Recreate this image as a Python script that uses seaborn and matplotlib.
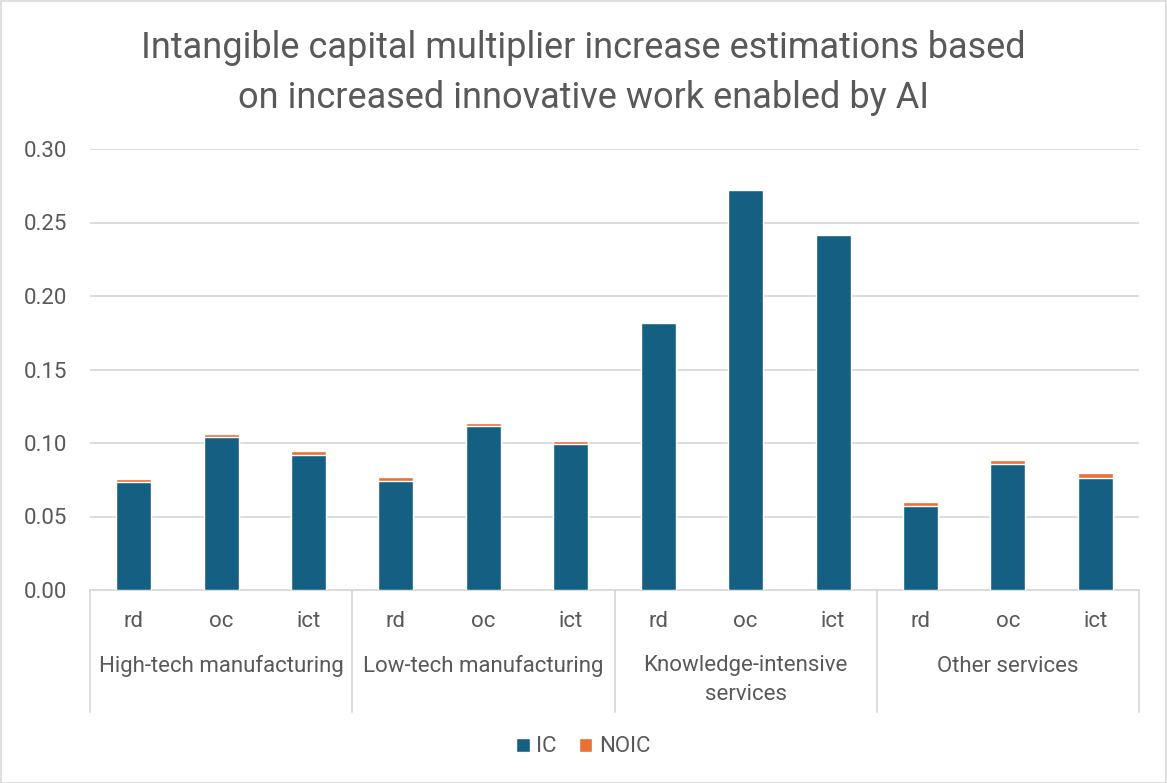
import numpy as np
import pandas as pd
import matplotlib
matplotlib.use("Agg")
import matplotlib.pyplot as plt
import matplotlib.transforms as mtransforms
from matplotlib.patches import Patch, Rectangle
import seaborn as sns

# Data
sectors = ["High-tech manufacturing", "Low-tech manufacturing",
           "Knowledge-intensive\nservices", "Other services"]
capital_types = ["rd", "oc", "ict"]
ic_values = [0.0733, 0.1039, 0.0921,
             0.0744, 0.1118, 0.0995,
             0.1814, 0.2719, 0.2417,
             0.0574, 0.0859, 0.0764]
noic_values = [0.0022, 0.0022, 0.0022,
               0.0027, 0.0018, 0.0016,
               0.0003, 0.0003, 0.0003,
               0.0025, 0.0025, 0.0032]
y_ticks = [0.00, 0.05, 0.10, 0.15, 0.20, 0.25, 0.30]
title = "Intangible capital multiplier increase estimations based\non increased innovative work enabled by AI"

IC_COLOR = "#156082"
NOIC_COLOR = "#E97132"
TEXT_COLOR = "#595959"
GRID_COLOR = "#D9D9D9"
FS = 16

sns.set_theme(style="white")
plt.rcParams["font.family"] = ["Roboto", "DejaVu Sans"]

rows = []
for i, sector in enumerate(sectors):
    for j, ct in enumerate(capital_types):
        k = i * len(capital_types) + j
        rows.append({"slot": f"{k}", "type": ct, "sector": sector,
                     "IC": ic_values[k], "NOIC": noic_values[k]})
df = pd.DataFrame(rows)
df["total"] = df["IC"] + df["NOIC"]

W, H = 1167, 783
fig = plt.figure(figsize=(W / 100, H / 100), dpi=100)
ax = fig.add_axes([90 / W, 1 - 590 / H, (1139 - 90) / W, (590 - 149) / H])

# Stacked bars: total in orange first, IC drawn over it
sns.barplot(data=df, x="slot", y="total", color=NOIC_COLOR, width=0.4,
            saturation=1, ax=ax, zorder=2)
sns.barplot(data=df, x="slot", y="IC", color=IC_COLOR, width=0.4,
            saturation=1, ax=ax, zorder=3)

n = len(df)
ax.set_xlim(-0.5, n - 0.5)
ax.set_ylim(0, 0.30)
ax.set_yticks(y_ticks)
ax.set_yticklabels([f"{v:.2f}" for v in y_ticks], color=TEXT_COLOR, fontsize=FS)
ax.yaxis.grid(True, color=GRID_COLOR, linewidth=1.3, zorder=0)
ax.set_axisbelow(True)
ax.tick_params(axis="y", length=0, pad=16.5)
ax.tick_params(axis="x", length=0, pad=15)
ax.set_xticks(range(n))
ax.set_xticklabels(df["type"], color=TEXT_COLOR, fontsize=FS)
ax.set_xlabel("")
ax.set_ylabel("")
for side in ["left", "right", "top"]:
    ax.spines[side].set_visible(False)
ax.spines["bottom"].set_color(GRID_COLOR)
ax.spines["bottom"].set_linewidth(1.3)

# Group dividers and sector labels below the axis
trans = mtransforms.blended_transform_factory(ax.transData, ax.transAxes)
axis_h_px = 590 - 149
div_bottom = -(712 - 590) / axis_h_px
ng = len(capital_types)
for g in range(len(sectors) + 1):
    xpos = g * ng - 0.5
    ax.plot([xpos, xpos], [0, div_bottom], transform=trans, color=GRID_COLOR,
            linewidth=1.3, clip_on=False)
for g, sector in enumerate(sectors):
    xc = g * ng + (ng - 1) / 2
    yc = 680 if "\n" in sector else 666
    ax.text(xc, -(yc - 590) / axis_h_px, sector, transform=trans,
            ha="center", va="center", color=TEXT_COLOR, fontsize=FS,
            linespacing=1.45)

fig.text(0.5, 1 - 73 / H, title, ha="center", va="center", color=TEXT_COLOR,
         fontsize=26, linespacing=1.5)

handles = [Patch(facecolor=IC_COLOR, label="IC"),
           Patch(facecolor=NOIC_COLOR, label="NOIC")]
fig.legend(handles=handles, loc="center", bbox_to_anchor=(0.5, 1 - 747 / H),
           ncol=2, frameon=False, fontsize=FS, handlelength=0.6,
           handleheight=0.6, handletextpad=0.3, columnspacing=1.0,
           labelcolor=TEXT_COLOR)

fig.patches.append(Rectangle((0.5 / W, 0.5 / H), 1 - 1.5 / W, 1 - 1.5 / H,
                             transform=fig.transFigure, fill=False,
                             edgecolor=GRID_COLOR, linewidth=1.2))

fig.savefig("out.png", dpi=100, facecolor="white")
